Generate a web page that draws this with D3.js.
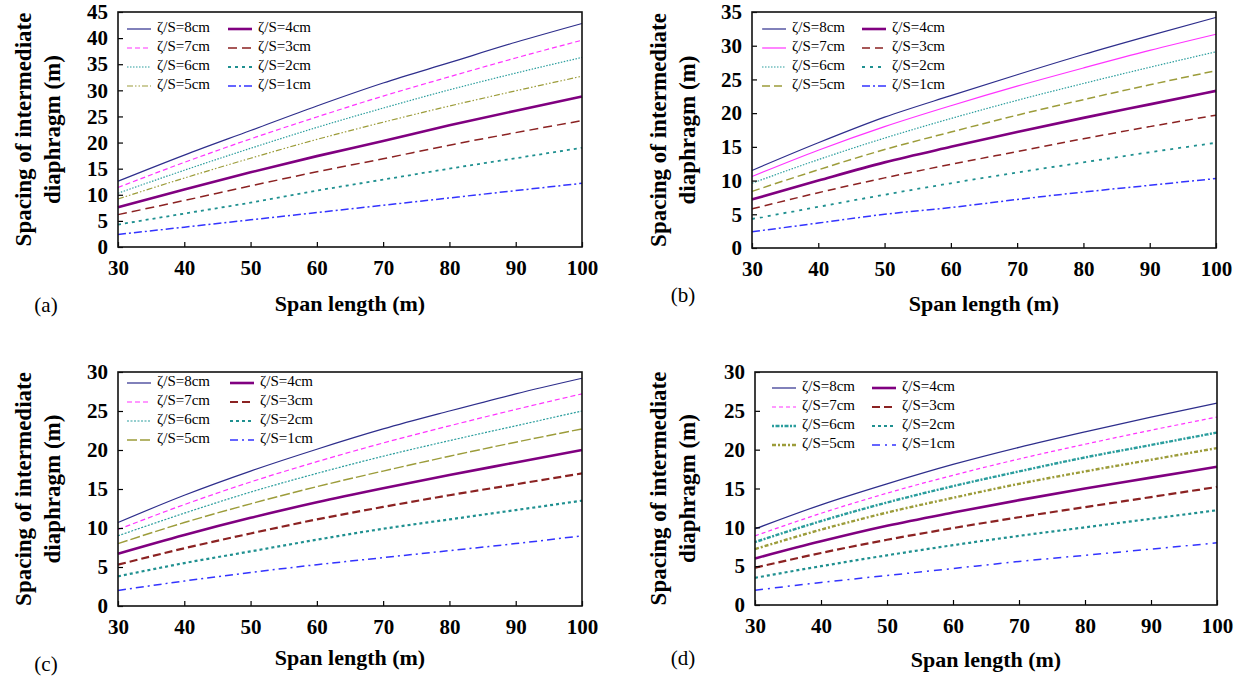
<!DOCTYPE html>
<html>
<head>
<meta charset="utf-8">
<script src="https://cdn.jsdelivr.net/npm/d3@7"></script>
<style>
  body { margin: 0; background: #fff; }
  text { font-family: "Liberation Serif", "Times New Roman", serif; }
</style>
</head>
<body>
<div id="chart"></div>
<script>
// data
var spans = [30, 40, 50, 60, 70, 80, 90, 100]
var seriesLabels = ["ζ/S=8cm", "ζ/S=7cm", "ζ/S=6cm", "ζ/S=5cm", "ζ/S=4cm", "ζ/S=3cm", "ζ/S=2cm", "ζ/S=1cm"]
var xTicks = [30, 40, 50, 60, 70, 80, 90, 100]

var spacingA = [
  [12.6, 17.6, 22.3, 27.0, 31.4, 35.3, 39.2, 42.8],
  [11.4, 16.2, 20.7, 24.9, 28.9, 32.6, 36.2, 39.6],
  [10.3, 14.7, 18.9, 22.9, 26.6, 30.1, 33.3, 36.3],
  [9.2, 13.2, 17.0, 20.6, 23.9, 27.0, 29.9, 32.7],
  [7.6, 11.0, 14.3, 17.4, 20.3, 23.3, 26.1, 28.8],
  [6.2, 8.9, 11.7, 14.4, 16.9, 19.5, 21.9, 24.2],
  [4.3, 6.4, 8.5, 10.8, 12.9, 15.0, 17.0, 19.0],
  [2.4, 3.8, 5.2, 6.6, 8.0, 9.4, 10.8, 12.2]
]
var spacingB = [
  [11.5, 15.6, 19.4, 22.6, 25.7, 28.7, 31.5, 34.2],
  [10.6, 14.5, 18.0, 21.1, 24.0, 26.7, 29.3, 31.7],
  [9.6, 13.1, 16.3, 19.2, 21.9, 24.4, 26.8, 29.1],
  [8.4, 11.6, 14.6, 17.2, 19.7, 22.0, 24.2, 26.3],
  [7.2, 10.0, 12.7, 15.0, 17.2, 19.3, 21.3, 23.3],
  [5.8, 8.2, 10.4, 12.4, 14.3, 16.2, 18.0, 19.7],
  [4.3, 6.1, 7.9, 9.6, 11.2, 12.7, 14.2, 15.6],
  [2.4, 3.7, 5.0, 6.0, 7.2, 8.3, 9.3, 10.3]
]
var spacingC = [
  [10.7, 14.2, 17.3, 20.1, 22.7, 25.0, 27.2, 29.2],
  [9.8, 13.0, 15.9, 18.5, 20.9, 23.1, 25.2, 27.2],
  [9.0, 11.9, 14.6, 17.0, 19.2, 21.2, 23.1, 25.0],
  [8.0, 10.7, 13.1, 15.3, 17.3, 19.2, 21.0, 22.7],
  [6.7, 9.1, 11.3, 13.3, 15.1, 16.8, 18.4, 20.0],
  [5.3, 7.4, 9.3, 11.1, 12.7, 14.2, 15.6, 17.0],
  [3.8, 5.5, 7.0, 8.5, 9.9, 11.1, 12.3, 13.5],
  [2.0, 3.2, 4.3, 5.3, 6.2, 7.1, 8.0, 9.0]
]
var spacingD = [
  [9.8, 12.9, 15.6, 18.1, 20.3, 22.3, 24.2, 26.0],
  [8.9, 11.8, 14.4, 16.7, 18.8, 20.7, 22.5, 24.2],
  [8.1, 10.8, 13.2, 15.3, 17.2, 19.0, 20.6, 22.2],
  [7.2, 9.7, 11.9, 13.8, 15.6, 17.2, 18.7, 20.2],
  [6.0, 8.2, 10.2, 11.9, 13.5, 15.0, 16.4, 17.8],
  [4.8, 6.7, 8.4, 9.9, 11.3, 12.6, 13.9, 15.2],
  [3.5, 5.0, 6.4, 7.7, 8.9, 10.0, 11.1, 12.2],
  [1.9, 2.9, 3.8, 4.7, 5.6, 6.4, 7.2, 8.0]
]

var colors = ["#2e2e8c", "#ff33ff", "#2a9d9d", "#9c9c3a", "#800080", "#8b2222", "#1f9090", "#3333ff"]

// line styles per panel: [dasharray, width]
var stylesA = [["", 1.2], ["5,3", 1.2], ["1.5,1.5", 1.2], ["6,2,1.5,2,1.5,2", 1.2], ["", 2.6], ["9,5", 1.5], ["3,4", 1.8], ["8,3,2,3", 1.5]]
var stylesB = [["", 1.2], ["", 1.2], ["1.5,1.5", 1.2], ["8,4", 1.5], ["", 2.6], ["8,5", 1.5], ["3,5", 1.8], ["8,3,2,3", 1.5]]
var stylesC = [["", 1.2], ["5,3", 1.2], ["2,1.5", 1.2], ["10,3", 1.4], ["", 2.6], ["8,4", 2.2], ["3,3", 2.2], ["8,4,2,4", 1.5]]
var stylesD = [["", 1.2], ["4,3", 1.2], ["2,1.5,4,1.5", 2.4], ["4,2,2,2", 2.4], ["", 2.6], ["8,4", 2.2], ["3,3", 2.2], ["8,5,2,5", 1.5]]

var panels = [
  { data: spacingA, styles: stylesA, yMax: 45, left: 118, right: 582, top: 12, bottom: 247, legX: [127, 228], legY: 29, tag: "(a)", tagX: 46, tagY: 307, titleY: 306, yTitleX: 26 },
  { data: spacingB, styles: stylesB, yMax: 35, left: 752, right: 1216, top: 12, bottom: 248, legX: [762, 862], legY: 29, tag: "(b)", tagX: 683, tagY: 297, titleY: 306, yTitleX: 661 },
  { data: spacingC, styles: stylesC, yMax: 30, left: 118, right: 582, top: 372, bottom: 606, legX: [127, 230], legY: 383, tag: "(c)", tagX: 46, tagY: 666, titleY: 660, yTitleX: 26 },
  { data: spacingD, styles: stylesD, yMax: 30, left: 755, right: 1217, top: 372, bottom: 605, legX: [772, 872], legY: 388, tag: "(d)", tagX: 683, tagY: 660, titleY: 662, yTitleX: 661 }
]

var svg = d3.select("#chart")
  .append("svg")
  .attr("width", 1241)
  .attr("height", 682)

panels.forEach(function (p) {
  var g = svg.append("g")
  var x = d3.scaleLinear().domain([30, 100]).range([p.left, p.right])
  var y = d3.scaleLinear().domain([0, p.yMax]).range([p.bottom, p.top])

  // curves
  var line = d3.line()
    .x(function (d, i) { return x(spans[i]) })
    .y(function (d) { return y(d) })
    .curve(d3.curveMonotoneX)

  p.data.forEach(function (s, i) {
    g.append("path")
      .attr("d", line(s))
      .attr("fill", "none")
      .attr("stroke", colors[i])
      .attr("stroke-width", p.styles[i][1])
      .attr("stroke-dasharray", p.styles[i][0] || null)
  })

  // axes with inward ticks
  var xAxis = g.append("g")
    .attr("transform", "translate(0," + p.bottom + ")")
    .call(d3.axisBottom(x).tickValues(xTicks).tickSize(-5).tickPadding(13).tickFormat(d3.format("d")))
  var yAxis = g.append("g")
    .attr("transform", "translate(" + p.left + ",0)")
    .call(d3.axisLeft(y).ticks(p.yMax / 5).tickSize(-5).tickPadding(10).tickFormat(d3.format("d")))
  ;[xAxis, yAxis].forEach(function (a) {
    a.select(".domain").remove()
    a.selectAll("line").attr("stroke", "#000").attr("stroke-width", 1.2)
    a.selectAll("text")
      .style("font-family", "Liberation Serif")
      .style("font-weight", "bold")
      .style("font-size", "21px")
      .attr("fill", "#000")
  })

  // frame
  g.append("rect")
    .attr("x", p.left).attr("y", p.top)
    .attr("width", p.right - p.left).attr("height", p.bottom - p.top)
    .attr("fill", "none")
    .attr("stroke", "#111")
    .attr("stroke-width", 1.6)

  // legend
  seriesLabels.forEach(function (lab, i) {
    var lx = p.legX[Math.floor(i / 4)]
    var ly = p.legY + (i % 4) * 19
    g.append("line")
      .attr("x1", lx).attr("x2", lx + 24)
      .attr("y1", ly).attr("y2", ly)
      .attr("stroke", colors[i])
      .attr("stroke-width", p.styles[i][1])
      .attr("stroke-dasharray", p.styles[i][0] || null)
    g.append("text")
      .attr("x", lx + 30).attr("y", ly)
      .attr("dominant-baseline", "middle")
      .style("font-size", "15px")
      .text(lab)
  })

  // titles
  g.append("text")
    .attr("x", (p.left + p.right) / 2).attr("y", p.titleY)
    .attr("text-anchor", "middle")
    .attr("dominant-baseline", "middle")
    .style("font-weight", "bold")
    .style("font-size", "22px")
    .text("Span length (m)")

  var cy = (p.top + p.bottom) / 2
  ;["Spacing of intermediate", "diaphragm (m)"].forEach(function (t, k) {
    g.append("text")
      .attr("transform", "translate(" + (p.yTitleX + k * 29) + "," + cy + ") rotate(-90)")
      .attr("text-anchor", "middle")
      .attr("dominant-baseline", "middle")
      .style("font-weight", "bold")
      .style("font-size", "23px")
      .text(t)
  })

  g.append("text")
    .attr("x", p.tagX).attr("y", p.tagY)
    .attr("text-anchor", "middle")
    .attr("dominant-baseline", "middle")
    .style("font-size", "21px")
    .text(p.tag)
})
</script>
</body>
</html>
